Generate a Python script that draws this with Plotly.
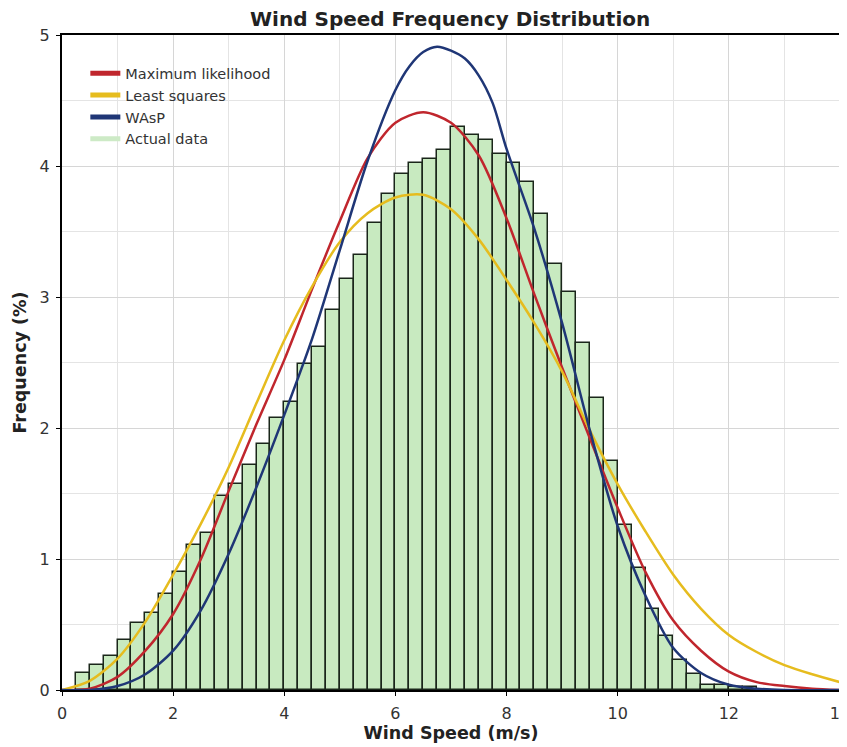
import plotly.graph_objects as go

# ---- data ----
bin_centers = [0.375, 0.625, 0.875, 1.125, 1.375, 1.625, 1.875, 2.125, 2.375, 2.625,
               2.875, 3.125, 3.375, 3.625, 3.875, 4.125, 4.375, 4.625, 4.875, 5.125,
               5.375, 5.625, 5.875, 6.125, 6.375, 6.625, 6.875, 7.125, 7.375, 7.625,
               7.875, 8.125, 8.375, 8.625, 8.875, 9.125, 9.375, 9.625, 9.875, 10.125,
               10.375, 10.625, 10.875, 11.125, 11.375, 11.625, 11.875, 12.125, 12.375]
actual_freq = [0.13, 0.19, 0.26, 0.38, 0.51, 0.59, 0.73, 0.90, 1.11, 1.20,
               1.48, 1.57, 1.72, 1.88, 2.08, 2.20, 2.49, 2.62, 2.90, 3.14,
               3.32, 3.565, 3.79, 3.94, 4.02, 4.05, 4.12, 4.30, 4.24, 4.20,
               4.09, 4.02, 3.875, 3.63, 3.25, 3.04, 2.65, 2.23, 1.75, 1.26,
               0.93, 0.62, 0.41, 0.23, 0.12, 0.04, 0.04, 0.02, 0.02]

curve_x = [0, 0.5, 1, 1.5, 2, 2.5, 3, 3.5, 4, 4.5, 5, 5.5, 6, 6.5, 7, 7.5,
           8, 8.5, 9, 9.5, 10, 10.5, 11, 11.5, 12, 12.5, 13, 13.5, 14]
ml_freq = [0, 0.01, 0.10, 0.30, 0.58, 1.00, 1.52, 2.03, 2.52, 3.06, 3.58, 4.06,
           4.33, 4.41, 4.33, 4.08, 3.60, 3.02, 2.46, 1.92, 1.39, 0.90, 0.53, 0.30,
           0.14, 0.06, 0.03, 0.01, 0.0]
ls_freq = [0, 0.07, 0.24, 0.52, 0.88, 1.27, 1.70, 2.19, 2.67, 3.08, 3.42, 3.64,
           3.76, 3.78, 3.67, 3.44, 3.13, 2.80, 2.43, 1.98, 1.57, 1.21, 0.88, 0.62,
           0.42, 0.29, 0.19, 0.12, 0.06]
wasp_x = [0, 0.5, 1, 1.5, 2, 2.5, 3, 3.5, 4, 4.5, 5, 5.5, 6, 6.25, 6.5, 6.75, 7,
          7.25, 7.5, 7.75, 8, 8.5, 9, 9.5, 10, 10.5, 11, 11.5, 12, 12.5, 13, 14]
wasp_freq = [0, 0.0, 0.03, 0.12, 0.30, 0.61, 1.04, 1.55, 2.10, 2.68, 3.36, 4.04,
             4.58, 4.76, 4.87, 4.91, 4.88, 4.82, 4.69, 4.48, 4.13, 3.52, 2.80, 1.98,
             1.25, 0.72, 0.32, 0.13, 0.04, 0.01, 0.0, 0.0]

series_names = ["Maximum likelihood", "Least squares", "WAsP", "Actual data"]
series_colors = ["#c0262d", "#e6bc1e", "#1f3676", "#cdeac6"]
x_ticks = [0, 2, 4, 6, 8, 10, 12, 14]
y_ticks = [0, 1, 2, 3, 4, 5]

FONT = "DejaVu Sans, Verdana, sans-serif"

fig = go.Figure()

fig.add_trace(go.Bar(
    x=bin_centers, y=actual_freq, width=0.25,
    marker=dict(color="#c8eac0", line=dict(color="#1a261a", width=1.5)),
    showlegend=False, name=series_names[3]))

for xs, ys, col in zip([curve_x, curve_x, wasp_x], [ml_freq, ls_freq, wasp_freq],
                       series_colors[:3]):
    fig.add_trace(go.Scatter(
        x=xs, y=ys, mode="lines",
        line=dict(color=col, width=2.5, shape="spline", smoothing=0.8),
        showlegend=False))

# legend entries (thicker line samples as in the reference)
for nm, col in zip(series_names, series_colors):
    fig.add_trace(go.Scatter(x=[None], y=[None], mode="lines", name=nm,
                             line=dict(color=col, width=5)))

axis_common = dict(
    showline=True, linecolor="black", linewidth=2, mirror=True,
    ticks="outside", ticklen=4, tickcolor="black", automargin=False,
    gridcolor="#d6d6d6", gridwidth=1, zeroline=False,
    tickfont=dict(family=FONT, size=16, color="#333333"),
)

fig.update_layout(
    width=839, height=739,
    margin=dict(l=54, r=7, t=27, b=57),
    paper_bgcolor="white", plot_bgcolor="white",
    title=dict(text="<b>Wind Speed Frequency Distribution</b>",
               x=0.527, xanchor="center", y=0.985, yanchor="middle",
               font=dict(family=FONT, size=20, color="#222222")),
    bargap=0,
    legend=dict(x=0.030, y=0.966, xanchor="left", yanchor="top",
                bgcolor="rgba(255,255,255,0)", borderwidth=0,
                font=dict(family=FONT, size=14.5, color="#333333"),
                tracegroupgap=0),
    xaxis=dict(range=[0, 14], tickvals=x_ticks, ticklabelstandoff=4,
               ticklabeloverflow="allow",
               minor=dict(dtick=1, showgrid=True, gridcolor="#e4e4e4"),
               title=dict(text="<b>Wind Speed (m/s)</b>", standoff=4,
                          font=dict(family=FONT, size=17.5, color="#222222")),
               **axis_common),
    yaxis=dict(range=[0, 5], tickvals=y_ticks, ticklabelstandoff=3,
               minor=dict(dtick=0.5, showgrid=True, gridcolor="#e4e4e4"),
               title=dict(text="<b>Frequency (%)</b>", standoff=8,
                          font=dict(family=FONT, size=17.5, color="#222222")),
               **axis_common),
)

fig.write_html("out.html")
